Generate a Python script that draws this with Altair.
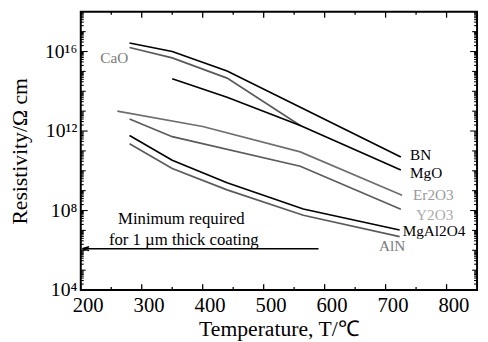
import altair as alt
import pandas as pd

# ---------------- data ----------------
SERIES = ["BN", "CaO", "MgO", "Er2O3", "Y2O3", "MgAl2O4", "AlN"]

BN_T = [280, 350, 440, 725]
BN_R = [2.7e16, 1.0e16, 1.05e15, 5.0e10]

CAO_T = [280, 350, 440, 560]
CAO_R = [1.6e16, 4.8e15, 4.6e14, 1.9e12]

MGO_T = [350, 440, 560, 725]
MGO_R = [4.3e14, 5.0e13, 1.9e12, 1.1e10]

ER2O3_T = [260, 400, 560, 727]
ER2O3_R = [1.0e13, 1.7e12, 8.9e10, 5.9e8]

Y2O3_T = [280, 350, 560, 725]
Y2O3_R = [4.0e12, 5.2e11, 1.7e10, 1.15e8]

MGAL2O4_T = [280, 350, 440, 565, 723]
MGAL2O4_R = [5.9e11, 3.4e10, 2.5e9, 1.2e8, 1.05e7]

ALN_T = [280, 350, 440, 565, 723]
ALN_R = [2.3e11, 1.3e10, 1.1e9, 5.8e7, 4.9e6]

LINE_COLORS = ["#000000", "#5a5a5a", "#000000", "#6e6e6e", "#5a5a5a", "#000000", "#5a5a5a"]

# series labels: text, T, resistivity, colour
LABEL_TEXT = ["CaO", "BN", "MgO", "Er2O3", "Y2O3", "MgAl2O4", "AlN"]
LABEL_T = [232, 740, 740, 745, 750, 728, 689]
LABEL_R = [4.8e15, 6.0e10, 7.4e9, 6.3e8, 6.0e7, 9.0e6, 1.6e6]
LABEL_COLORS = ["#7a7a7a", "#000000", "#000000", "#9a9a9a", "#aaaaaa", "#000000", "#7a7a7a"]

# minimum-requirement arrow and its note
MIN_R = 1.2e6
MIN_T_START = 590
MIN_T_END = 205
NOTE_TEXT = ["Minimum required", "for 1 \u00b5m thick coating"]
NOTE_T = [365, 369]
NOTE_R = [3.6e7, 3.3e6]

# axis ranges and tick values
X_DOMAIN = [200, 850]
Y_DOMAIN = [1e4, 1e18]
X_MAJOR = [200, 300, 400, 500, 600, 700, 800]
X_MINOR = [250, 350, 450, 550, 650, 750]
Y_MAJOR = [1e4, 1e8, 1e12, 1e16]
Y_DECADE = [10.0 ** d for d in range(5, 18) if d % 4 != 0]
Y_MINOR = [m * 10.0 ** d for d in range(4, 18) for m in range(2, 10)]

# ---------------- build tables ----------------
all_T = [BN_T, CAO_T, MGO_T, ER2O3_T, Y2O3_T, MGAL2O4_T, ALN_T]
all_R = [BN_R, CAO_R, MGO_R, ER2O3_R, Y2O3_R, MGAL2O4_R, ALN_R]
rows = []
for name, ts, rs in zip(SERIES, all_T, all_R):
    for i, (t, r) in enumerate(zip(ts, rs)):
        rows.append({"series": name, "T": t, "R": r, "order": i})
lines_df = pd.DataFrame(rows)

labels_df = pd.DataFrame({"text": LABEL_TEXT, "T": LABEL_T, "R": LABEL_R, "color": LABEL_COLORS})
arrow_df = pd.DataFrame({"T": [MIN_T_START], "T2": [MIN_T_END], "R": [MIN_R]})
head_df = pd.DataFrame({"T": [MIN_T_END + 3], "R": [MIN_R]})
note_df = pd.DataFrame({"text": NOTE_TEXT, "T": NOTE_T, "R": NOTE_R})

W, H = 403, 283
FONT = "Liberation Serif"


# inward frame ticks as short stroked symbols sitting on the frame edges;
# a symbol path of unit length is drawn sqrt(size)/2 px long
def sym_size(length_px):
    return 4.0 * length_px * length_px


xt_rows = [{"T": v, "s": sym_size(6)} for v in X_MAJOR] + [{"T": v, "s": sym_size(3)} for v in X_MINOR]
yt_rows = ([{"R": v, "s": sym_size(7)} for v in Y_MAJOR]
           + [{"R": v, "s": sym_size(5)} for v in Y_DECADE]
           + [{"R": v, "s": sym_size(3)} for v in Y_MINOR])
bottom_df = pd.DataFrame([dict(r, R=Y_DOMAIN[0]) for r in xt_rows])
top_df = pd.DataFrame([dict(r, R=Y_DOMAIN[1]) for r in xt_rows])
left_df = pd.DataFrame([dict(r, T=X_DOMAIN[0]) for r in yt_rows])
right_df = pd.DataFrame([dict(r, T=X_DOMAIN[1]) for r in yt_rows])

xscale = alt.Scale(domain=X_DOMAIN, nice=False, zero=False)
yscale = alt.Scale(type="log", domain=Y_DOMAIN, nice=False)

x_axis = alt.Axis(
    orient="bottom", values=X_MAJOR, format="d", labelFont=FONT, labelFontSize=21,
    labelColor="black", labelOffset=7, labelPadding=5, labelFlush=False, ticks=False,
    tickSize=0, domain=False, grid=False, title="Temperature, T/\u2103", titleFont=FONT,
    titleFontSize=22, titleFontWeight="normal", titleColor="black", titlePadding=3,
)
y_axis = alt.Axis(
    orient="left", values=Y_MAJOR,
    labelExpr="datum.value == 10000 ? '10\u2074' : datum.value == 1e8 ? '10\u2078' : "
              "datum.value == 1e12 ? '10\u00b9\u00b2' : '10\u00b9\u2076'",
    labelFont=FONT, labelFontSize=20, labelColor="black", labelPadding=4,
    labelFlush=False, ticks=False, tickSize=0, domain=False, grid=False,
    title="Resistivity/\u03a9 cm", titleFont=FONT, titleFontSize=22,
    titleFontWeight="normal", titleColor="black", titlePadding=13,
)


def X(field):
    return alt.X(field, scale=xscale, axis=x_axis)


def Y(field):
    return alt.Y(field, scale=yscale, axis=y_axis)


lines = alt.Chart(lines_df).mark_line(strokeWidth=1.7).encode(
    x=X("T:Q"),
    y=Y("R:Q"),
    color=alt.Color("series:N", scale=alt.Scale(domain=SERIES, range=LINE_COLORS), legend=None),
    detail="series:N",
    order="order:Q",
)


def edge_ticks(df, path, width):
    return alt.Chart(df).mark_point(
        shape=path, filled=False, color="black", strokeWidth=width, opacity=1
    ).encode(x=X("T:Q"), y=Y("R:Q"), size=alt.Size("s:Q", scale=None, legend=None))


ticks = [
    edge_ticks(bottom_df, "M0,0L0,-1", 1.3),
    edge_ticks(top_df, "M0,0L0,1", 1.3),
    edge_ticks(left_df, "M0,0L1,0", 1.1),
    edge_ticks(right_df, "M0,0L-1,0", 1.1),
]

labels = alt.Chart(labels_df).mark_text(
    font=FONT, fontSize=15.5, align="left", baseline="middle"
).encode(
    x=X("T:Q"), y=Y("R:Q"), text="text:N", color=alt.Color("color:N", scale=None),
)

arrow = alt.Chart(arrow_df).mark_rule(color="black", strokeWidth=1.5).encode(
    x=X("T:Q"), x2="T2:Q", y=Y("R:Q"),
)

head = alt.Chart(head_df).mark_point(
    shape="M-1,0L1,-0.55M-1,0L1,0.55", filled=False, color="black", strokeWidth=1.5,
    size=50, opacity=1
).encode(x=X("T:Q"), y=Y("R:Q"))

note = alt.Chart(note_df).mark_text(
    font=FONT, fontSize=17, align="center", baseline="middle", color="black"
).encode(x=X("T:Q"), y=Y("R:Q"), text="text:N")

chart = alt.layer(lines, *ticks, labels, arrow, head, note).properties(
    width=W, height=H,
    autosize=alt.AutoSizeParams(type="none"),
    padding={"left": 74, "top": 1, "right": 3, "bottom": 50},
    background="white",
).configure_view(stroke="black", strokeWidth=2)

chart.save("out.html", embed_options={"renderer": "svg", "actions": False})
